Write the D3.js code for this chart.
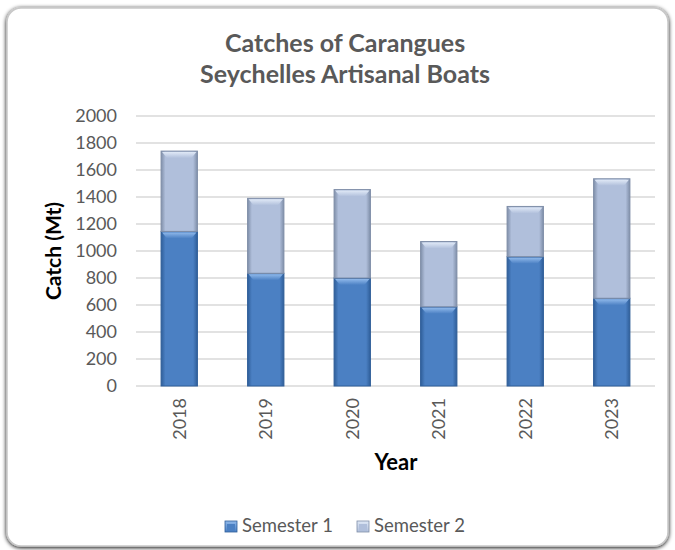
<!DOCTYPE html>
<html><head><meta charset="utf-8">
<script src="https://cdn.jsdelivr.net/npm/d3@7"></script>
<style>body{margin:0;background:#fff;} svg{display:block;}</style>
</head><body>
<svg id="chart" width="675" height="550"></svg>
<script>
const years = ["2018","2019","2020","2021","2022","2023"];
const semester1 = [1145, 835, 800, 587, 958, 650];
const semester2 = [595, 555, 655, 483, 372, 885];
const seriesNames = ["Semester 1","Semester 2"];
const yTicks = [0,200,400,600,800,1000,1200,1400,1600,1800,2000];

const svg = d3.select("#chart");
const font = "Lato, 'Open Sans', sans-serif";
const defs = svg.append("defs");

const f = defs.append("filter").attr("id","sh").attr("x","-5%").attr("y","-5%").attr("width","110%").attr("height","110%");
f.append("feGaussianBlur").attr("in","SourceAlpha").attr("stdDeviation",2);
f.append("feOffset").attr("dx",0).attr("dy",1).attr("result","b");
const fm = f.append("feMerge"); fm.append("feMergeNode").attr("in","b"); fm.append("feMergeNode").attr("in","SourceGraphic");

svg.append("rect").attr("x",7).attr("y",8).attr("width",661).attr("height",538)
  .attr("rx",14).attr("fill","#fff").attr("stroke","#c8c8c8").attr("stroke-width",1.5).attr("filter","url(#sh)");

const colors = [
  {mid:"#4b80c3", dark:"#2f5e99", light:"#8fb8ea"},
  {mid:"#b0bfdb", dark:"#7f8ea8", light:"#dfe8f6"}
];
colors.forEach((c,i)=>{
  const g = defs.append("linearGradient").attr("id","hg"+i).attr("x1","0").attr("x2","1").attr("y1","0").attr("y2","0");
  g.append("stop").attr("offset","0").attr("stop-color",c.dark);
  g.append("stop").attr("offset","0.12").attr("stop-color",c.mid);
  g.append("stop").attr("offset","0.88").attr("stop-color",c.mid);
  g.append("stop").attr("offset","1").attr("stop-color",c.dark);
  const t = defs.append("linearGradient").attr("id","tg"+i).attr("x1","0").attr("x2","0").attr("y1","0").attr("y2","1");
  t.append("stop").attr("offset","0").attr("stop-color",c.light);
  t.append("stop").attr("offset","1").attr("stop-color",c.mid);
});

const x = d3.scaleBand().domain(years).range([136,655]).paddingInner(0.58).paddingOuter(0.29);
const y = d3.scaleLinear().domain([0,2000]).range([386,116]);

svg.append("g").selectAll("line").data(yTicks).join("line")
  .attr("x1",136).attr("x2",655).attr("y1",d=>y(d)).attr("y2",d=>y(d))
  .attr("stroke","#d9d9d9").attr("stroke-width",1.3);

const yAxis = svg.append("g").attr("transform","translate(125,0)")
  .call(d3.axisLeft(y).tickValues(yTicks).tickFormat(d3.format("d")).tickSize(0).tickPadding(8));
yAxis.select(".domain").remove();
yAxis.selectAll("text").attr("font-family",font).attr("font-size",18).attr("fill","#595959");

const xAxis = svg.append("g").attr("transform","translate(0,386)")
  .call(d3.axisBottom(x).tickSize(0).tickPadding(0));
xAxis.select(".domain").remove();
xAxis.selectAll("text").attr("font-family",font).attr("font-size",18).attr("fill","#595959")
  .attr("transform","rotate(-90)").attr("text-anchor","end").attr("dy","0.35em").attr("x",-12).attr("y",0);

const rows = years.map((yr,i)=>({year:yr, s1:semester1[i], s2:semester2[i]}));
const stack = d3.stack().keys(["s1","s2"])(rows);
const bw = x.bandwidth();
stack.forEach((layer,li)=>{
  const g = svg.append("g");
  layer.forEach(d=>{
    const x0 = x(d.data.year), y0 = y(d[1]), h = y(d[0]) - y(d[1]);
    g.append("rect").attr("x",x0).attr("y",y0).attr("width",bw).attr("height",h)
      .attr("fill","url(#hg"+li+")").attr("stroke",colors[li].dark).attr("stroke-width",1);
    g.append("path").attr("d",`M${x0+1},${y0+1} L${x0+bw-1},${y0+1} L${x0+bw-6},${y0+7} L${x0+6},${y0+7} Z`)
      .attr("fill","url(#tg"+li+")");
  });
});

const title = svg.append("text").attr("text-anchor","middle")
  .attr("font-family",font).attr("font-size",25).attr("font-weight","bold").attr("fill","#595959");
title.append("tspan").attr("x",345).attr("y",52).text("Catches of Carangues");
title.append("tspan").attr("x",345).attr("y",83).text("Seychelles Artisanal Boats");

svg.append("text").attr("transform","translate(61,251) rotate(-90)").attr("text-anchor","middle")
  .attr("font-family",font).attr("font-size",21).attr("font-weight","bold").attr("fill","#000").text("Catch (Mt)");
svg.append("text").attr("x",396).attr("y",470).attr("text-anchor","middle")
  .attr("font-family",font).attr("font-size",22).attr("font-weight","bold").attr("fill","#000").text("Year");

const legX = [225, 357];
const leg = svg.append("g");
seriesNames.forEach((n,i)=>{
  leg.append("rect").attr("x",legX[i]).attr("y",521).attr("width",12).attr("height",11)
    .attr("fill","url(#tg"+i+")").attr("stroke",colors[i].dark).attr("stroke-width",0.8);
  leg.append("rect").attr("x",legX[i]+2).attr("y",524).attr("width",8).attr("height",7).attr("fill",colors[i].mid);
  leg.append("text").attr("x",legX[i]+17).attr("y",532).attr("font-family",font).attr("font-size",18.5)
    .attr("fill","#595959").text(n);
});
</script>
</body></html>
